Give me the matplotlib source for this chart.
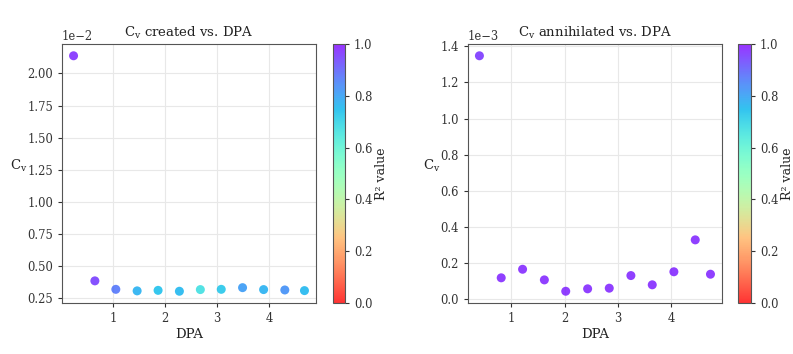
import numpy as np
import matplotlib
matplotlib.use("Agg")
import matplotlib.pyplot as plt

plt.rcParams["font.family"] = "DejaVu Serif"
plt.rcParams["mathtext.fontset"] = "dejavuserif"

# -----------------------------
# Data
# -----------------------------
dpa_created = [0.246, 0.655, 1.057, 1.466, 1.868, 2.277, 2.679, 3.08, 3.489, 3.893, 4.30, 4.677]
cv_created = [2.138, 0.383, 0.317, 0.305, 0.309, 0.302, 0.315, 0.317, 0.330, 0.315, 0.312, 0.307]  # x1e-2
r2_created = [0.97, 0.95, 0.87, 0.77, 0.74, 0.76, 0.67, 0.73, 0.81, 0.77, 0.83, 0.76]

dpa_annih = [0.404, 0.812, 1.212, 1.62, 2.02, 2.43, 2.835, 3.24, 3.64, 4.045, 4.445, 4.73]
cv_annih = [1.348, 0.1165, 0.164, 0.105, 0.042, 0.0555, 0.059, 0.129, 0.0777, 0.150, 0.327, 0.1365]  # x1e-3
r2_annih = [0.96, 0.98, 0.98, 0.98, 0.98, 0.98, 0.98, 0.98, 0.98, 0.98, 0.98, 0.98]

panels = [
    (dpa_created, np.array(cv_created) * 1e-2, r2_created, r"C$_\mathrm{v}$ created vs. DPA"),
    (dpa_annih, np.array(cv_annih) * 1e-3, r2_annih, r"C$_\mathrm{v}$ annihilated vs. DPA"),
]

fig = plt.figure(figsize=(7.93, 3.54), dpi=100)
ax_pos = [[0.0782, 0.144, 0.3203, 0.7317], [0.590, 0.144, 0.3205, 0.7317]]
cb_pos = [[0.420, 0.144, 0.0151, 0.7317], [0.9306, 0.144, 0.0164, 0.7317]]

for i, (x, y, r2, title) in enumerate(panels):
    ax = fig.add_axes(ax_pos[i])
    cax = fig.add_axes(cb_pos[i])
    sc = ax.scatter(x, y, c=r2, cmap="rainbow_r", vmin=0, vmax=1,
                    s=42, alpha=0.8, edgecolors="none", zorder=3)
    ax.set_title(title, fontsize=9.5, pad=5, color="#222222")
    ax.set_xlabel("DPA", fontsize=9.5, labelpad=2, color="#222222")
    ax.set_ylabel(r"C$_\mathrm{v}$", fontsize=9.5, rotation=0, labelpad=6, color="#222222")
    ax.grid(True, color="#e8e8e8", linewidth=0.8, zorder=0)
    ax.set_xticks([1, 2, 3, 4])
    ax.ticklabel_format(axis="y", style="sci", scilimits=(0, 0))
    ax.yaxis.get_offset_text().set_fontsize(8.3)
    ax.tick_params(labelsize=8.3, colors="#333333", length=3)
    for sp in ax.spines.values():
        sp.set_color("#555555")
    cb = fig.colorbar(sc, cax=cax)
    cb.set_label("R² value", fontsize=9, labelpad=2, color="#222222")
    cb.set_ticks([0.0, 0.2, 0.4, 0.6, 0.8, 1.0])
    cb.ax.tick_params(labelsize=8.3, colors="#333333", length=3)
    cb.outline.set_edgecolor("#555555")

ax_list = fig.axes
ax_list[0].set_yticks([0.0025, 0.005, 0.0075, 0.01, 0.0125, 0.015, 0.0175, 0.02])
ax_list[2].set_yticks([0.0, 0.0002, 0.0004, 0.0006, 0.0008, 0.001, 0.0012, 0.0014])

fig.savefig("out.png", dpi=100)
